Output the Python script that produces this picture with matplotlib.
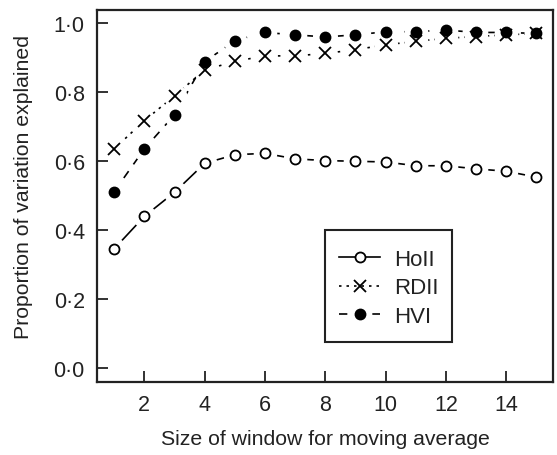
import matplotlib
matplotlib.use('Agg')
import matplotlib.pyplot as plt
from matplotlib.lines import Line2D
from matplotlib.patches import Rectangle
from matplotlib.ticker import FuncFormatter

plt.rcParams['font.family'] = ['Liberation Sans', 'DejaVu Sans']

window = list(range(1, 16))
hoII = [0.346, 0.440, 0.510, 0.594, 0.619, 0.623, 0.607, 0.602, 0.600, 0.598,
        0.587, 0.587, 0.578, 0.571, 0.554]
rdII = [0.636, 0.718, 0.790, 0.865, 0.890, 0.906, 0.906, 0.913, 0.924, 0.938,
        0.948, 0.957, 0.962, 0.967, 0.971]
hvI = [0.512, 0.636, 0.735, 0.889, 0.950, 0.974, 0.967, 0.961, 0.967, 0.976,
       0.976, 0.981, 0.974, 0.974, 0.971]

series = [
    ('HoII', hoII, '-', 'o', 'white'),
    ('RDII', rdII, (0, (1.5, 3)), 'x', 'black'),
    ('HVI', hvI, (0, (5, 5)), 'o', 'black'),
]

fig = plt.figure(figsize=(5.57, 4.56), dpi=100)
ax = fig.add_axes([0.1747, 0.1607, 0.8187, 0.8158])

# lines first, then white discs to break them near the points, then markers
for name, vals, ls, mk, fc in series:
    ax.plot(window, vals, ls=ls, color='black', lw=1.2, zorder=2)
for name, vals, ls, mk, fc in series:
    ax.plot(window, vals, ls='none', marker='o', ms=16, mfc='white',
            mec='white', zorder=3)
handles = []
for name, vals, ls, mk, fc in series:
    ms = 7.2 if mk == 'o' else 8
    ax.plot(window, vals, ls='none', marker=mk, ms=ms, mfc=fc, mec='black',
            mew=1.3, zorder=4)
    handles.append(Line2D([], [], color='black', ls=ls, lw=1.2, marker=mk,
                          ms=ms, mfc=fc, mec='black', mew=1.3, label=name))

ax.set_xlim(0.44, 15.56)
ax.set_ylim(-0.04, 1.04)
ax.set_xticks([2, 4, 6, 8, 10, 12, 14])
ax.set_yticks([0.0, 0.2, 0.4, 0.6, 0.8, 1.0])
ax.yaxis.set_major_formatter(FuncFormatter(lambda v, p: f'{v:.1f}'.replace('.', '\u00b7')))
ax.tick_params(direction='in', length=8, width=1.3, labelsize=15.5,
               colors='#222222', pad=9)
for sp in ax.spines.values():
    sp.set_linewidth(1.6)
    sp.set_color('#222222')

ax.set_xlabel('Size of window for moving average', fontsize=15.3, color='#222222')
ax.set_ylabel('Proportion of variation explained', fontsize=15.3, color='#222222')
ax.xaxis.set_label_coords(0.5, -0.127)
ax.yaxis.set_label_coords(-0.141, 0.525)

# legend box: frame drawn separately so it can be taller than the entries need
ax.add_patch(Rectangle((0.499, 0.107), 0.279, 0.301, transform=ax.transAxes,
                       fill=False, ec='#222222', lw=1.5, zorder=5))
leg = ax.legend(handles=handles, loc='center', bbox_to_anchor=(0.640, 0.252),
                borderaxespad=0, fontsize=16, frameon=False,
                handlelength=1.85, handletextpad=0.63, labelspacing=0.33,
                borderpad=0.3)
for t in leg.get_texts():
    t.set_color('#222222')

fig.savefig('out.png', dpi=100)
